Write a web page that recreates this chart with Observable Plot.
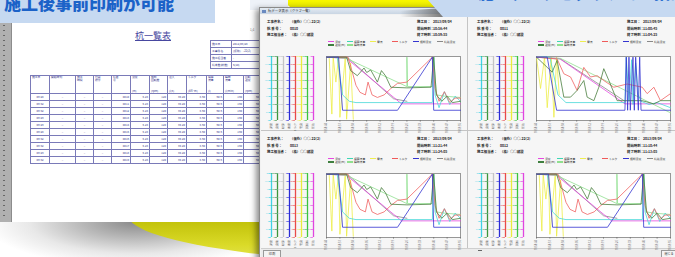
<!DOCTYPE html>
<html><head><meta charset="utf-8">
<script src="https://cdn.jsdelivr.net/npm/d3@7"></script>
<script src="https://cdn.jsdelivr.net/npm/@observablehq/plot@0.6"></script>
<style>
body{margin:0;width:675px;height:257px;overflow:hidden;position:relative;background:#fff;font-family:"Noto Sans CJK JP","Noto Sans",sans-serif;}
.a{position:absolute;}
table{border-collapse:collapse;}
td{border:0.6px solid #7a7ab8;padding:0 1px;font-size:2.8px;line-height:3px;color:#34348a;white-space:nowrap;overflow:hidden;}
svg{overflow:visible;}
</style></head><body>
<script>
// ---------- data ----------
const bannerLeftText = "施工後事前印刷が可能";
const bannerRightText = "施工データをグラフで一括確認できます";
const paperTitle = "杭一覧表";
const pageNo = "1/1";
const infoLabels = ["施工日","工事件名","施工担当者","杭本数(総数)"];
const infoValues = ["2012/09/28","(仮称)○-22(2)","-","5(10)"];
const tableHeaders = ["施工日","開始時刻","施工\n時間","打設\n順序","杭番\n号","深度","掘削\n回転数","注入","トルク","積算\n流量","瞬時\n流量","回転\n速度","掘削\n速度"];
const tableUnits = ["","","","","","(m)","(rpm)","(l/s)","(kN·m)","(l)","(l/min)","(rpm)","(m/min)"];
const tableTimes = ["09:28","09:32","09:32","09:29","09:29","09:28","09:32","09:32","09:29","09:32"];
const tablePiles = ["0010","0011","0012","0013","0014","0015","0016","0017","0018","0019"];
const tableDepth = ["5.23","5.23","5.23","5.23","5.23","5.23","5.23","5.23","5.23","5.23"];
const tableRot = ["120","120","120","120","120","120","120","120","120","120"];
const tableInj = ["39.20","39.20","39.20","39.20","39.20","39.20","39.20","39.20","39.20","39.20"];
const tableTorque = ["3.60","3.60","3.60","3.60","3.60","3.60","3.60","3.60","3.60","3.60"];
const tableTotal = ["60.6","60.6","60.6","60.6","60.6","60.6","60.6","60.6","60.6","60.6"];
const tableFlow = ["190","190","190","190","190","190","190","190","190","190"];
const tableSpeed = ["60","60","60","60","60","60","60","60","60","60"];
const tableDig = ["2","2","2","2","2","2","2","2","2","2"];

const axisNames = ["深度","流量","積算","速度","トルク","電流","回転","圧送"];
const axisColors = ["#3fd2e6","#3c963c","#c4c4c4","#2b2bd6","#e84a4a","#ecec3c","#3cc43c","#e044e0"];
const axisSteps = [2.5, 25, 100, 1, 5, 10, 20, 0.5];
const timeTicks = [0,10,20,30,40,50,60,70,80,90,100];
const timeLabels = ["10:58:44","10:58:51","10:58:58","10:59:05","10:59:12","10:59:19","10:59:26","10:59:33","10:59:40","10:59:47","10:59:55"];

const legendLabels = ["深度","速度(m)","積算流量","瞬時流量","電流","トルク","掘削深度","杭先深度"];
const legendColors = ["#e548e0","#3f7f3f","#3ed6b4","#8fe08f","#eeee50","#f05a5a","#3434d0","#888888"];

// panel A (top-left, bottom-left, bottom-right)
const aBlue = [[0,99],[9,99],[12,16],[53,16],[79,99],[80,16],[100,16]];
const aMagenta = [[0,99],[15,97],[56,26],[100,26]];
const aLightGreen = [[0,99],[15,97],[60,53],[60,99],[60.5,53],[79,53],[80,99],[82,40],[88,38],[100,36]];
const aDarkGreen = [[0,99],[15,99],[18,78],[23,70],[28,82],[30,75],[33,79],[38,60],[41,78],[44,70],[48,52],[60,51],[78,52],[80,99],[82,40],[86,30],[90,38],[94,28],[100,30]];
const aRed = [[0,99],[16,99],[18,85],[22,55],[25,44],[29,40],[31,60],[34,40],[38,36],[43,40],[48,50],[53,58],[60,60],[79,99],[81,50],[84,30],[88,45],[92,28],[96,35],[100,35]];
const aCyan = [[0,99],[8,99],[12,40],[17,30],[22,28],[60,28],[79,28],[80,99],[81,40],[84,20],[88,45],[92,25],[96,38],[100,30]];
const aYellow = [[0,99],[2,99],[4,10],[5,99],[7,60],[9,99],[10,5],[14,99],[15,2],[18,90],[20,2]];
const aGray = [[0,99],[16,98],[50,34],[60,30]];

// panel B (top-right)
const bBlue = [[0,99],[8,99],[15,16],[66,16],[67,99],[68,16],[69,99],[70,16],[72,99],[73,16],[74,99],[76,16],[77,99],[78,16],[100,16]];
const bMagenta = [[0,99],[17,97],[66,26],[100,26]];
const bLightGreen = [[0,99],[18,97],[100,12]];
const bDarkGreen = [[0,99],[8,83],[11.7,75.5],[15.4,94],[20.4,36.5],[25.4,36.5],[30.3,47],[35.3,62.5],[37.8,36.5],[42.8,31],[46.5,52],[50.2,81],[54,62.5],[60.2,31],[78.9,31],[87.6,26],[92.5,31],[100,31]];
const bRed = [[0,99],[15.4,96],[20.4,73],[25.4,68],[30.3,47],[35.3,83],[40.3,68],[45.3,70],[50.2,62.5],[57.7,52],[67.7,57],[78.9,52],[82.6,42],[87.6,52],[92.5,31],[100,42]];
const bCyan = [[0,99],[10,99],[16,40],[22,28],[66,28],[67,99],[69,30],[71,95],[72,25],[74,90],[76,40],[78,30],[84,25],[90,28],[100,20]];
const bYellow = [[0,99],[3,50],[6,99],[8,20],[11,99],[13,5],[15,99],[17,40]];
const bGray = [[0,99],[18,96],[66,30]];

const headersTL = [["工事件名：","（仮称）○○-22(2)"],["杭 番 号：","0010"],["施工担当者：","（株）○○建設"]];
const rightTL = [["施工日：","2013/09/04"],["開始時刻：","10:58:44"],["終了時刻：","10:59:55"]];
const headersTR = [["工事件名：","（仮称）○○-22(2)"],["杭 番 号：","0011"],["施工担当者：","（株）○○建設"]];
const rightTR = [["施工日：","2013/09/04"],["開始時刻：","11:00:45"],["終了時刻：","11:04:25"]];
const headersBL = [["工事件名：","（仮称）○○-22(2)"],["杭 番 号：","0013"],["施工担当者：","（株）○○建設"]];
const rightBL = [["施工日：","2013/09/04"],["開始時刻：","11:21:44"],["終了時刻：","11:24:05"]];
const headersBR = [["工事件名：","（仮称）○○-22(2)"],["杭 番 号：","0012"],["施工担当者：","（株）○○建設"]];
const rightBR = [["施工日：","2013/09/04"],["開始時刻：","11:10:44"],["終了時刻：","11:13:05"]];

// ---------- layout helpers ----------
function el(tag, style, html) {
  const e = document.createElement(tag);
  e.className = "a";
  Object.assign(e.style, style);
  if (html !== undefined) e.innerHTML = html;
  document.body.appendChild(e);
  return e;
}
function px(v){return v+"px";}

// background shapes
el("div",{left:"0px",top:"222px",width:"300px",height:"35px",background:"radial-gradient(ellipse 150px 45px at 135px 0px, #8a8a8a 0%, #b8b8b8 35%, #e8e8e8 70%, #ffffff 100%)"});
el("div",{left:"128px",top:"162px",width:"800px",height:"106px",borderRadius:"50%",background:"linear-gradient(to bottom,#a0a000 0%,#c4c40c 58%,#dada28 78%,#eaea60 100%)"});
el("div",{left:"285px",top:"0px",width:"165px",height:"11px",borderBottomLeftRadius:"25px 11px",background:"linear-gradient(to bottom,#f8f800,#e0e000)"});
el("div",{left:"250px",top:"0px",width:"38px",height:"10px",background:"#eef2f8"});

// left banner
el("div",{left:"0px",top:"0px",width:"215px",height:"23px",background:"#c6d9f1",overflow:"hidden"},
  `<div style="position:absolute;left:4px;top:-7px;font-size:17px;line-height:19px;font-weight:900;color:#1b62c8;white-space:nowrap">${bannerLeftText}</div>`);

// paper
el("div",{left:"0px",top:"23px",width:"262px",height:"199px",background:"#fff"});
el("div",{left:"0px",top:"23px",width:"11px",height:"199px",background:"#b0b0b0",borderRight:"1px solid #8c8c8c"});
el("div",{left:"3px",top:"25px",width:"2px",height:"195px",background:"repeating-linear-gradient(to bottom,#666 0px,#666 1px,transparent 1px,transparent 5px)"});
el("div",{left:"128px",top:"30px",width:"50px",height:"12px",fontSize:"9px",lineHeight:"11px",color:"#4848a0",textDecoration:"underline",textAlign:"center",whiteSpace:"nowrap"},paperTitle);
el("div",{left:"250px",top:"28px",fontSize:"3px",color:"#666"},pageNo);
// info table
{
  let h = "<table>";
  infoLabels.forEach((l,i)=>{h+=`<tr style="height:7px"><td style="width:18px">${l}</td><td style="width:30px">${infoValues[i]}</td></tr>`;});
  h += "</table>";
  el("div",{left:"210px",top:"40px"},h);
}
// main table
{
  const widths=[18,25,17,17,18,18,17,18,19,16,19,16,18];
  const dash = tablePiles.map(()=> "–");
  const cols=[tableTimes,dash,dash,dash,tablePiles,tableDepth,tableRot,tableInj,tableTorque,tableTotal,tableFlow,tableSpeed,tableDig];
  let h = `<table style="table-layout:fixed;width:${d3.sum(widths)}px"><tr style="height:17px">`;
  tableHeaders.forEach((t,i)=>{h+=`<td style="width:${widths[i]-2}px;vertical-align:top;position:relative;height:17px">${t.replace("\n","<br>")}<div style="position:absolute;bottom:0;left:1px">${tableUnits[i]}</div></td>`;});
  h+="</tr>";
  tablePiles.forEach((p,r)=>{
    h+=`<tr style="height:7px">`;
    cols.forEach((c,i)=>{h+=`<td style="text-align:${i<4?"center":"right"}">${c[r]}</td>`;});
    h+="</tr>";
  });
  h+="</table>";
  el("div",{left:"30px",top:"75px"},h);
}

// window
el("div",{left:"259px",top:"7px",width:"420px",height:"252px",background:"#f2f2f2",border:"1px solid #8a8a8a",boxShadow:"-3px 2px 6px rgba(0,0,0,0.45)"});
el("div",{left:"260px",top:"8px",width:"419px",height:"6px",background:"linear-gradient(#e4ebf3,#c9d5e3)",fontSize:"3.4px",lineHeight:"6px",color:"#333"},"<span style='display:inline-block;width:4px;height:3px;background:#6a8ac0;margin:0 2px 0 2px;vertical-align:middle'></span>杭データ表示（グラフ一覧）");
el("div",{left:"261px",top:"15px",width:"416px",height:"233px",background:"#f6f6f6"});
el("div",{left:"467px",top:"15px",width:"1px",height:"233px",background:"#c4c4c4"});
el("div",{left:"261px",top:"130px",width:"416px",height:"1px",background:"#c4c4c4"});
el("div",{left:"261px",top:"248px",width:"416px",height:"9px",background:"#ececec",borderTop:"1px solid #cfcfcf"});
el("div",{left:"263px",top:"250px",width:"16px",height:"6px",background:"#f4f4f4",border:"0.6px solid #999",fontSize:"3px",lineHeight:"6px",textAlign:"center",color:"#333"},"印 刷");
el("div",{left:"661px",top:"250px",width:"14px",height:"6px",background:"#f4f4f4",border:"0.6px solid #999",fontSize:"3px",lineHeight:"6px",textAlign:"center",color:"#333"},"閉じる");
el("div",{left:"478px",top:"250px",width:"4px",height:"1px",background:"#666"});

// charts
const axisObjs = axisNames.map((n,i)=>({name:n,color:axisColors[i]}));
const axisTickData = axisNames.flatMap((n,i)=> d3.range(0,9).map(k=>({axis:n,k,color:axisColors[i],label:(+(k*axisSteps[i]).toFixed(1)).toString()})));

function axesChart(){
  return Plot.plot({
    width:62,height:78,marginLeft:0,marginRight:0,marginTop:4,marginBottom:10,
    x:{type:"point",domain:axisNames,range:[3,57],axis:null},
    y:{domain:[0,8],axis:null},
    color:{type:"identity"},
    style:{background:"transparent",overflow:"visible"},
    marks:[
      Plot.ruleY(axisTickData,{x1:"axis",x2:"axis",y:"k",insetLeft:-2,stroke:"color",strokeWidth:0.6}),
      Plot.ruleX(axisObjs,{x:"name",y1:0,y2:8,stroke:"color",strokeWidth:1.3}),
      Plot.text(axisTickData,{x:"axis",y:"k",text:"label",dx:-2.3,textAnchor:"end",fontSize:2.3,fill:"color"}),
      Plot.text(axisNames,{x:d=>d,y:0,dy:2.5,rotate:-90,text:d=>d,textAnchor:"end",fontSize:2.8,fill:"#555"})
    ]
  });
}
function mainChart(series){
  return Plot.plot({
    width:140,height:78,marginLeft:2,marginRight:4,marginTop:4,marginBottom:10,
    x:{domain:[0,100]},
    y:{domain:[0,100],axis:null},
    style:{background:"transparent",overflow:"visible"},
    marks:[
      Plot.frame({fill:"#fff",stroke:"#555",strokeWidth:0.6}),
      ...series.map(s=>Plot.line(s[0],{x:d=>d[0],y:d=>d[1],stroke:s[1],strokeWidth:0.8})),
      Plot.axisX({ticks:timeTicks,tickFormat:(d,i)=>timeLabels[i],tickRotate:-90,tickSize:1.5,tickPadding:1,fontSize:2.6,stroke:"#777",fill:"#666"})
    ]
  });
}
function panel(ox,oy,heads,rights,series){
  heads.forEach((h,i)=>{
    el("div",{left:px(ox+5),top:px(oy+5+i*6.5),fontSize:"3.4px",lineHeight:"4px",fontWeight:"bold",color:"#222",whiteSpace:"nowrap"},
      `<span style="display:inline-block;width:23px">${h[0]}</span>${h[1]}`);
  });
  rights.forEach((h,i)=>{
    el("div",{left:px(ox+155),top:px(oy+5+i*6.5),fontSize:"3.4px",lineHeight:"4px",fontWeight:"bold",color:"#222",whiteSpace:"nowrap"},
      `<span style="display:inline-block;width:16px">${h[0]}</span>${h[1]}`);
  });
  const lx=[66,66,85,85,108,130,151,175], ly=[0,1,0,1,0,0,0,0];
  legendLabels.forEach((l,i)=>{
    el("div",{left:px(ox+lx[i]),top:px(oy+25.5+ly[i]*3.2),fontSize:"2.8px",lineHeight:"3px",color:"#333",whiteSpace:"nowrap"},
      `<span style="display:inline-block;width:6px;height:1.2px;background:${legendColors[i]};vertical-align:middle;margin-right:1px"></span>${l}`);
  });
  const axd=el("div",{left:px(ox),top:px(oy+37)}); axd.appendChild(axesChart());
  const mcd=el("div",{left:px(ox+62),top:px(oy+37)}); mcd.appendChild(mainChart(series));
}
const C={blue:"#3434d0",mag:"#e548e0",lg:"#8fe08f",dg:"#4a7f3f",red:"#f06262",cyan:"#48d8d8",yel:"#eded48",gray:"#8a8a8a"};
const seriesA=[[aYellow,C.yel],[aGray,C.gray],[aMagenta,C.mag],[aLightGreen,C.lg],[aCyan,C.cyan],[aRed,C.red],[aDarkGreen,C.dg],[aBlue,C.blue]];
const seriesB=[[bYellow,C.yel],[bGray,C.gray],[bMagenta,C.mag],[bLightGreen,C.lg],[bCyan,C.cyan],[bRed,C.red],[bDarkGreen,C.dg],[bBlue,C.blue]];
panel(262,15,headersTL,rightTL,seriesA);
panel(472,15,headersTR,rightTR,seriesB);
panel(262,132,headersBL,rightBL,seriesA);
panel(472,132,headersBR,rightBR,seriesA);

// right banner (on top)
el("div",{left:"400px",top:"8px",width:"45px",height:"9px",background:"linear-gradient(to right,rgba(90,90,90,0),rgba(70,70,70,0.75))",clipPath:"polygon(0 30%,100% 0,100% 100%,0 100%)"});
el("div",{left:"428px",top:"0px",width:"247px",height:"17px",background:"#c6d9f1",clipPath:"polygon(0 0,100% 0,100% 100%,15px 100%)",overflow:"hidden"},
  `<div style="position:absolute;left:50px;top:-16px;font-size:16px;line-height:16px;font-weight:900;color:#2a6ed0;white-space:nowrap">${bannerRightText}</div>`);
</script>
</body></html>
